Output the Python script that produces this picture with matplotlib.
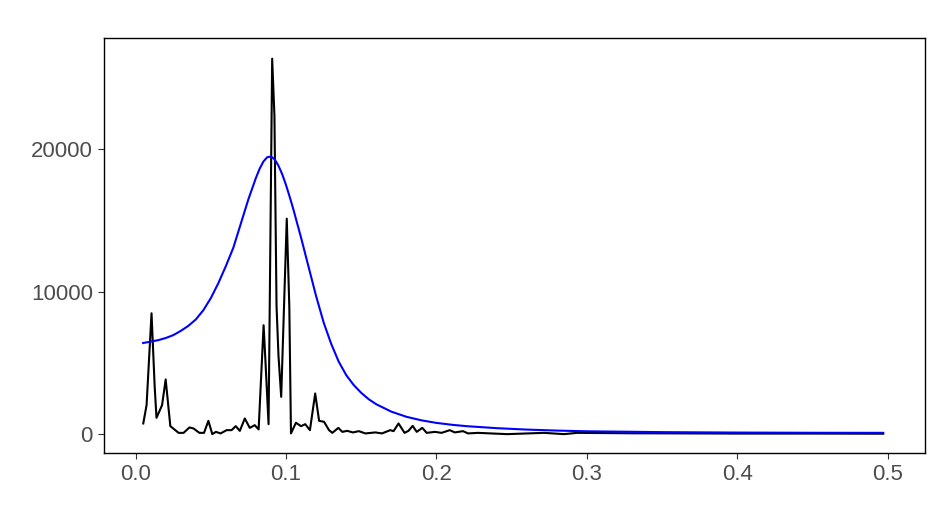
import matplotlib.pyplot as plt

# raw periodogram (black)
pgram_freq = [0.0051, 0.0073, 0.0106, 0.0127, 0.0139, 0.0176, 0.0200, 0.0231, 0.0286,
              0.0319, 0.0358, 0.0385, 0.0424, 0.0455, 0.0484, 0.0510, 0.0534, 0.0565,
              0.0605, 0.0638, 0.0666, 0.0693, 0.0726, 0.0759, 0.0792, 0.0818, 0.0851,
              0.0864, 0.0884, 0.0908, 0.0923, 0.0937, 0.0950, 0.0968, 0.1005, 0.1022,
              0.1033, 0.1066, 0.1100, 0.1128, 0.1159, 0.1194, 0.1220, 0.1253, 0.1286,
              0.1308, 0.1348, 0.1374, 0.1407, 0.1445, 0.1484, 0.1528, 0.1594, 0.1638,
              0.1693, 0.1715, 0.1748, 0.1788, 0.1814, 0.1842, 0.1869, 0.1906, 0.1935,
              0.1990, 0.2034, 0.2089, 0.2122, 0.2177, 0.2210, 0.2276, 0.2470, 0.2716,
              0.2848, 0.2935, 0.3300, 0.3700, 0.4000, 0.4500, 0.4970]
pgram_power = [750, 2035, 8490, 3320, 1145, 2035, 3840, 560, 90,
               90, 470, 400, 90, 90, 935, 0, 160, 50,
               280, 280, 560, 230, 1100, 440, 630, 330, 7650,
               4980, 700, 26370, 22390, 9000, 5500, 2620, 15135, 8930,
               50, 800, 560, 700, 280, 2855, 935, 865, 280,
               90, 440, 160, 230, 120, 210, 50, 120, 50,
               280, 210, 750, 90, 230, 580, 160, 440, 90,
               160, 90, 280, 120, 210, 50, 90, 0, 90,
               0, 90, 60, 50, 40, 40, 30]

# fitted AR spectrum (blue)
ar_freq = [0.005, 0.01, 0.015, 0.02, 0.025, 0.03, 0.035, 0.04, 0.045, 0.05, 0.055,
           0.06, 0.065, 0.07, 0.075, 0.08, 0.0825, 0.085, 0.0875, 0.09, 0.0925,
           0.095, 0.0975, 0.10, 0.1025, 0.105, 0.11, 0.115, 0.12, 0.125, 0.13,
           0.135, 0.14, 0.145, 0.15, 0.155, 0.16, 0.17, 0.18, 0.19, 0.20, 0.21,
           0.22, 0.24, 0.26, 0.28, 0.30, 0.35, 0.40, 0.45, 0.497]
ar_power = [6400, 6500, 6600, 6750, 6950, 7250, 7600, 8050, 8700, 9550, 10600,
            11800, 13100, 14800, 16500, 18000, 18650, 19150, 19450, 19500, 19300,
            18850, 18250, 17500, 16650, 15750, 13800, 11750, 9700, 7850, 6350,
            5100, 4150, 3450, 2900, 2450, 2100, 1580, 1220, 970, 790, 660,
            560, 420, 320, 250, 200, 140, 110, 95, 90]

plt.rcParams['font.family'] = ['Liberation Sans', 'DejaVu Sans']

fig = plt.figure(figsize=(9.36, 5.16), dpi=100)
ax = fig.add_axes([104 / 936, 1 - 453 / 516, 821 / 936, 415 / 516])

ax.plot(pgram_freq, pgram_power, color='black', lw=1.5)
ax.plot(ar_freq, ar_power, color='blue', lw=1.5)

ax.set_xlim(-0.021, 0.5248)
ax.set_ylim(-1325, 27825)
ax.set_xticks([0.0, 0.1, 0.2, 0.3, 0.4, 0.5])
ax.set_xticklabels(['0.0', '0.1', '0.2', '0.3', '0.4', '0.5'])
ax.set_yticks([0, 10000, 20000])
ax.set_yticklabels(['0', '10000', '20000'])

ax.tick_params(axis='both', colors='#333333', labelsize=16, length=4, width=0.8,
               labelcolor='#4d4d4d', pad=4)
for s in ax.spines.values():
    s.set_color('black')
    s.set_linewidth(1.0)

fig.savefig('out.png', dpi=100)
